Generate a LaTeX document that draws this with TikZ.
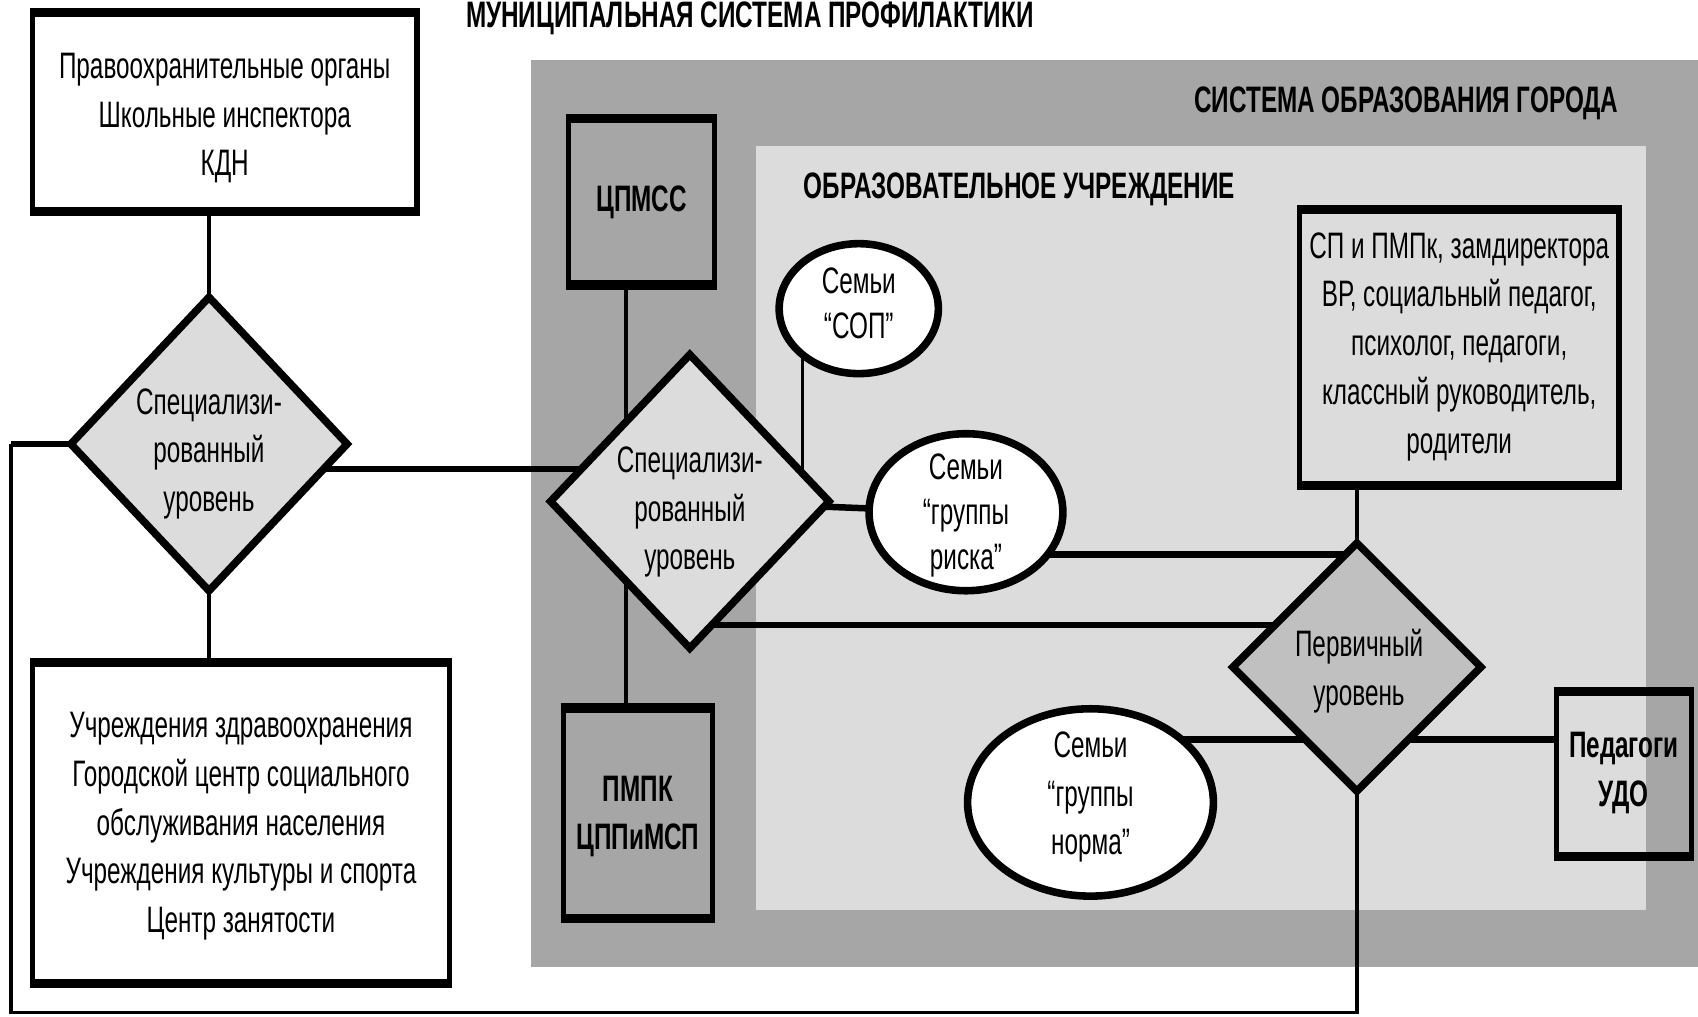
\documentclass[tikz,border=0pt]{standalone}
\usepackage{fontspec}
\setmainfont{Liberation Sans}[FakeStretch=0.66]
\usetikzlibrary{shapes.geometric}
\pgfdeclarelayer{back}
\pgfdeclarelayer{wires}
\pgfsetlayers{back,wires,main}
\definecolor{dgray}{HTML}{A6A6A6}
\definecolor{lgray}{HTML}{DCDCDC}
\definecolor{mgray}{HTML}{C0C0C0}
\begin{document}
\begin{tikzpicture}[x=0.5pt,y=-0.5pt,
  txt/.style={font=\fontsize{17}{22.5}\selectfont, align=center, inner sep=0pt},
  etxt/.style={font=\fontsize{17}{21}\selectfont, align=center, inner sep=0pt},
  btxt/.style={font=\fontsize{17}{22.5}\selectfont\bfseries, align=center, inner sep=0pt},
  box/.style={draw, rectangle, line width=2.4pt, inner sep=0pt,
    append after command={
      ([yshift=-2.1pt]\tikzlastnode.north west) edge[line width=4.2pt] ([yshift=-2.1pt]\tikzlastnode.north east)
      ([yshift=2.1pt]\tikzlastnode.south west) edge[line width=4.2pt] ([yshift=2.1pt]\tikzlastnode.south east)}},
  dia/.style={draw, diamond, line width=3.5pt, inner sep=0pt},
  ell/.style={draw, ellipse, fill=white, line width=3.5pt, inner sep=0pt},
  thickw/.style={line width=3pt},
  thinw/.style={line width=1.6pt}]
\useasboundingbox (0,0) rectangle (1568,939);

% background panels
\begin{pgfonlayer}{back}
  \fill[dgray] (490,55) rectangle (1575,893);
  \fill[lgray] (698,135) rectangle (1520,840);
\end{pgfonlayer}

% labels
\node[btxt, anchor=base west] (title) at (430,25) {МУНИЦИПАЛЬНАЯ СИСТЕМА ПРОФИЛАКТИКИ};
\node[btxt, anchor=base east] (syslbl) at (1495,104) {СИСТЕМА ОБРАЗОВАНИЯ ГОРОДА};
\node[btxt, anchor=base west] (oulbl) at (742,183) {ОБРАЗОВАТЕЛЬНОЕ УЧРЕЖДЕНИЕ};

% boxes
\node[box, fill=white, minimum width=177.5pt, minimum height=93.5pt] (tl) at (207.5,103.5) {};
\node[txt] (tl-t) at (207.5,109) {Правоохранительные органы\\Школьные инспектора\\КДН};
\node[box, fill=white, minimum width=192.5pt, minimum height=150pt] (bl) at (222.5,760) {};
\node[txt] (bl-t) at (222.5,763) {Учреждения здравоохранения\\Городской центр социального\\обслуживания населения\\Учреждения культуры и спорта\\Центр занятости};
\node[box, fill=dgray, minimum width=67.5pt, minimum height=78.5pt] (cp) at (592.5,186.5) {};
\node[btxt] (cp-t) at (592.5,186.5) {ЦПМСС};
\node[box, fill=dgray, minimum width=69pt, minimum height=99pt] (pm) at (589,751) {};
\node[btxt] (pm-t) at (589,754) {ПМПК\\ЦППиМСП};
\node[box, fill=lgray, minimum width=147.5pt, minimum height=129pt] (sp) at (1347.5,321) {};
\node[txt] (sp-t) at (1347.5,320) {СП и ПМПк, замдиректора\\ВР, социальный педагог,\\психолог, педагоги,\\классный руководитель,\\родители};
\node[box, minimum width=62.5pt, minimum height=78pt] (ped) at (1499.5,715) {};
\node[btxt] (ped-t) at (1499.5,714) {Педагоги\\УДО};

% diamonds
\node[dia, fill=lgray, minimum width=129pt, minimum height=137pt] (ld) at (193,410) {};
\node[txt] (ld-t) at (193,419) {Специализи-\\рованный\\уровень};
\node[dia, fill=lgray, minimum width=130pt, minimum height=137pt] (md) at (637,463) {};
\node[txt] (md-t) at (637,473) {Специализи-\\рованный\\уровень};
\node[dia, fill=mgray, minimum width=116pt, minimum height=116pt] (pd) at (1253,616) {};
\node[txt] (pd-t) at (1255,620) {Первичный\\уровень};

% ellipses
\node[ell, minimum width=73.5pt, minimum height=60pt] (sop) at (793,285) {};
\node[etxt] (sop-t) at (793,280) {Семьи\\“СОП”};
\node[ell, minimum width=89.5pt, minimum height=72.5pt] (risk) at (892,473) {};
\node[etxt] (risk-t) at (892,476) {Семьи\\“группы\\риска”};
\node[ell, minimum width=113.5pt, minimum height=86.5pt] (norm) at (1007,741) {};
\node[txt] (norm-t) at (1007,736) {Семьи\\“группы\\норма”};

% helper coordinates
\coordinate (lx) at (10,935);
\coordinate (vx) at (578,0);
\coordinate (sx) at (741,0);
\coordinate (ya) at (0,433);
\coordinate (yb) at (0,512);
\coordinate (yc) at (0,577);
\coordinate (yd) at (0,683);

% connectors
\begin{pgfonlayer}{wires}
  \draw[thinw] (ld.center) -- (ld.center |- tl.center);
  \draw[thinw] (ld.center) -- (ld.center |- bl.center);
  \draw[thickw] (ld.center |- ya) -- (md.center |- ya);
  \draw[thickw] (ld.center) -- (ld.center -| lx);
  \draw[thinw] (ld.center -| lx) -- (lx) -| (pd.center);
  \draw[thinw] (cp.center -| vx) -- (pm.center -| vx);
  \draw[thinw] (sop.center -| sx) -- (md.center -| sx);
  \draw[thickw] (md.center) -- (risk.center);
  \draw[thickw] (risk.center |- yb) -- (pd.center |- yb);
  \draw[thickw] (md.center |- yc) -- (pd.center |- yc);
  \draw[thinw] (pd.center) -- (pd.center |- sp.center);
  \draw[thickw] (norm.center |- yd) -- (pd.center |- yd);
  \draw[thickw] (pd.center |- yd) -- (ped.west |- yd);
\end{pgfonlayer}
\end{tikzpicture}
\end{document}
